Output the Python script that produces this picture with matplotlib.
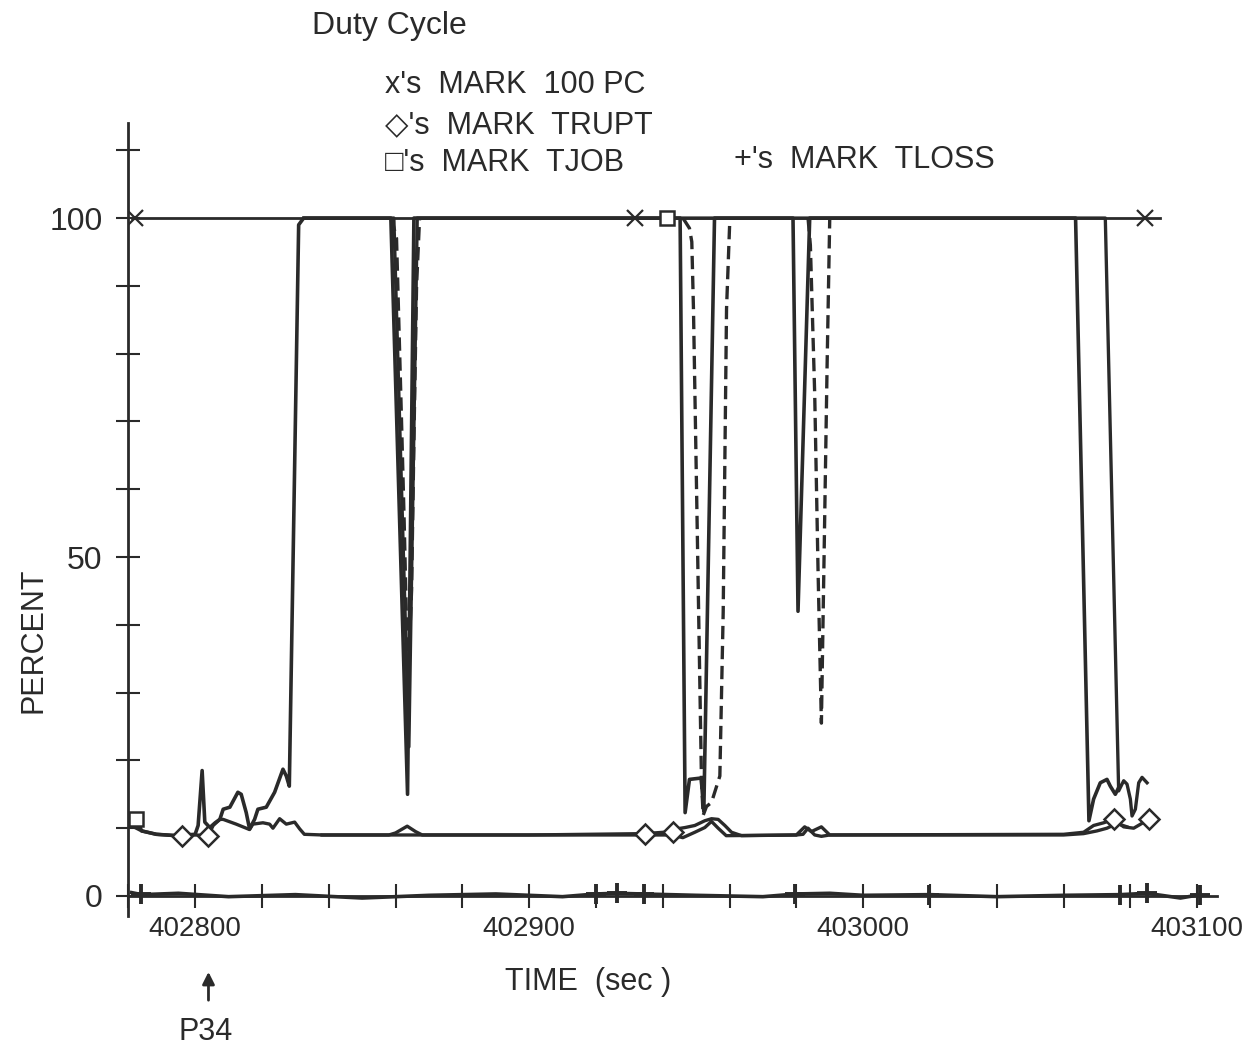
import matplotlib
matplotlib.use("Agg")
import matplotlib.pyplot as plt

plt.rcParams['font.family'] = ['Liberation Sans', 'DejaVu Sans']

# --- data (time in sec, duty cycle in percent) ---
# 100 PC reference line
pc100_t = [402781, 403089]
pc100_p = [100, 100]
pc100_mark_t = [402782, 402931.6, 403084.5]
pc100_mark_p = [100, 100, 100]

# TJOB curve (solid, main)
tjob_t = [402782.4, 402784, 402788.4, 402794.4, 402800, 402800.9, 402802.1, 402802.9,
          402804.4, 402806, 402807.4, 402808.4, 402810.4, 402812.8, 402813.8, 402815.3,
          402816.3, 402817.8, 402818.8, 402821.3, 402823.8, 402826.3, 402827.3, 402828.2,
          402831.0, 402832.5, 402858.6, 402863.6, 402865.5, 402945.2, 402946.7,
          402948, 402951.5, 402952.3, 402955.5, 402979, 402980.5, 402984, 403063.6,
          403067.6, 403069, 403071, 403073, 403074, 403075.5, 403076.5]
tjob_p = [11.3, 9.6, 9.1, 8.9, 9.1, 10.4, 18.5, 10.9,
          10.1, 10.8, 11.3, 12.8, 13.1, 15.3, 15.0, 12.3,
          9.9, 11.3, 12.8, 13.1, 15.3, 18.7, 17.7, 16.2,
          99, 100, 100, 15.0, 100, 100, 12.3,
          17.2, 17.4, 12.5, 100, 100, 42, 100, 100,
          11.1, 14.3, 16.7, 17.2, 16.2, 15.0, 16.0]
tjob_mark_t = [402782.4, 402941.2]
tjob_mark_p = [11.3, 100]

# second solid curve
solid2_t = [402832.5, 402859.5, 402864, 402866.5, 403072.5, 403076.5, 403078, 403079,
            403080, 403080.5, 403081.5, 403082.5, 403083.5, 403085]
solid2_p = [100, 100, 22, 100, 100, 15.5, 17.0, 16.5,
            14.3, 11.8, 12.8, 16.7, 17.5, 16.7]

# TRUPT curve (solid, along the bottom)
trupt_t = [402782.4, 402784, 402788.4, 402794.4, 402796.2, 402800, 402803.9, 402805.4,
           402807.4, 402808.4, 402812.3, 402816.3, 402817.3, 402820.3, 402822.3, 402823.3,
           402825.3, 402827.3, 402829.8, 402831.3, 402832.7, 402838.2, 402858, 402860,
           402863.5, 402866, 402868, 402900, 402934.6, 402943, 402944.2, 402946.7,
           402949.6, 402952.6, 402954.6, 402956.6, 402958.6, 402960.6, 402963.6, 402980,
           402982.5, 402984.5, 402987.5, 402990, 403060, 403066, 403069, 403072,
           403075, 403078, 403081, 403085.5]
trupt_p = [10.0, 9.6, 9.1, 8.9, 8.9, 9.0, 8.9, 10.4,
           11.3, 11.3, 10.6, 9.8, 10.6, 10.8, 10.6, 10.0,
           11.4, 10.6, 10.9, 9.9, 9.1, 9.0, 9.0, 9.3,
           10.3, 9.5, 9.0, 9.0, 9.2, 9.5, 9.9, 10.1,
           10.4, 11.1, 11.4, 11.3, 10.4, 9.4, 8.9, 9.0,
           10.2, 9.5, 10.2, 9.0, 9.1, 9.4, 10.4, 10.8,
           11.3, 10.2, 10.0, 11.3]
trupt_mark_t = [402796.2, 402803.9, 402934.6, 402943, 403075, 403085.5]
trupt_mark_p = [8.9, 8.9, 9.2, 9.5, 11.3, 11.3]

# companion bottom curve
low2_t = [402838, 402943, 402946, 402949.6, 402952.6, 402954.6, 402956.6, 402959, 402980,
          402982, 402983.5, 402985.5, 402987.5, 402990, 403060, 403066, 403070, 403073,
          403076, 403079]
low2_p = [9.0, 9.0, 8.6, 9.4, 10.1, 11.0, 10.0, 8.9, 9.0,
          9.1, 10.0, 9.0, 8.8, 9.0, 9.0, 9.2, 9.6, 10.0,
          10.7, 10.2]

# dashed curves
dash1_t = [402858.8, 402860.3, 402861.8, 402862.6, 402863.3, 402864, 402864.8, 402865.6,
           402866.3, 402867.2]
dash1_p = [100, 97, 70, 55, 40, 35, 45, 70, 90, 100]
dash2_t = [402946.0, 402946.7, 402948.0, 402948.7, 402949.2, 402950.4, 402951.6, 402952.1,
           402953.1, 402954.6, 402957.1, 402958.1, 402959.1, 402960.1]
dash2_p = [100, 99.5, 98.5, 96.5, 86.6, 52, 17.0, 11.9, 13.2, 13.8, 17.7, 41.9, 86.6, 100]
dash3_t = [402983.5, 402984.2, 402985.5, 402986.5, 402987.5, 402988.3, 402989.2, 402990.0]
dash3_p = [100, 96, 74, 48, 25.5, 50, 78, 100]

# TLOSS curve along zero
tloss_t = [402781, 402784, 402795, 402810, 402830, 402850, 402870, 402890, 402910, 402920,
           402926, 402934, 402950, 402970, 402980, 402990, 403000, 403020, 403040, 403060,
           403077, 403085, 403095, 403101]
tloss_p = [0.5, 0.2, 0.4, -0.1, 0.2, -0.3, 0.1, 0.3, -0.1, 0.3,
           0.4, 0.3, 0.1, -0.1, 0.3, 0.4, 0.1, 0.2, -0.1, 0.1,
           0.2, 0.4, -0.3, 0.2]
tloss_mark_t = [402783.9, 402920, 402926.2, 402934.3, 402979.6, 403019.8, 403077, 403085, 403101]
tloss_mark_p = [0.3, 0.3, 0.4, 0.3, 0.3, 0.2, 0.2, 0.4, 0.2]

x_ticks = [402780, 402800, 402820, 402840, 402860, 402880, 402900, 402920, 402940, 402960,
           402980, 403000, 403020, 403040, 403060, 403080, 403100]
x_labels = ['', '402800', '', '', '', '', '402900', '', '', '', '', '403000', '', '', '', '', '403100']
y_ticks = [0, 10, 20, 30, 40, 50, 60, 70, 80, 90, 100, 110]
y_labels = ['0', '', '', '', '', '50', '', '', '', '', '100', '']

ink = '#2a2a2a'

fig = plt.figure(figsize=(12.47, 10.58), dpi=100)
ax = fig.add_axes([0.1029, 0.1339, 0.8732, 0.7497])

ax.plot(pc100_t, pc100_p, color=ink, lw=2)
ax.plot(tloss_t, tloss_p, color=ink, lw=2.6)
ax.plot(trupt_t, trupt_p, color=ink, lw=2.4)
ax.plot(low2_t, low2_p, color=ink, lw=2.4)
ax.plot(solid2_t, solid2_p, color=ink, lw=2.4)
ax.plot(tjob_t, tjob_p, color=ink, lw=2.6)
for t, p in [(dash1_t, dash1_p), (dash2_t, dash2_p), (dash3_t, dash3_p)]:
    ax.plot(t, p, color=ink, lw=2.4, ls=(0, (4, 2)))

ax.plot(pc100_mark_t, pc100_mark_p, ls='none', marker='x', ms=11, mew=1.6, color=ink, zorder=5)
ax.plot(trupt_mark_t, trupt_mark_p, ls='none', marker='D', ms=10, mew=1.8, mec=ink, mfc='white', zorder=5)
ax.plot(tjob_mark_t, tjob_mark_p, ls='none', marker='s', ms=10, mew=1.8, mec=ink, mfc='white', zorder=5)
ax.plot(tloss_mark_t, tloss_mark_p, ls='none', marker='+', ms=14, mew=2.8, color=ink, zorder=5)

ax.set_xlim(402781, 403106)
ax.set_ylim(-3, 114)
ax.spines['top'].set_visible(False)
ax.spines['right'].set_visible(False)
ax.spines['bottom'].set_position(('data', 0))
for s in ['left', 'bottom']:
    ax.spines[s].set_linewidth(2)
    ax.spines[s].set_color(ink)

ax.set_xticks(x_ticks, x_labels)
ax.set_yticks(y_ticks, y_labels)
ax.tick_params(axis='both', direction='inout', length=17, width=1.5, color=ink,
               labelcolor=ink)
ax.tick_params(axis='x', pad=6, labelsize=20)
ax.tick_params(axis='y', pad=10, labelsize=23)

fig.text(0.25, 0.975, 'Duty Cycle', fontsize=23, color=ink, va='center')
fig.text(0.309, 0.92, "x's  MARK  100 PC", fontsize=22, color=ink, va='center')
fig.text(0.309, 0.882, "\u25c7's  MARK  TRUPT", fontsize=22, color=ink, va='center')
fig.text(0.309, 0.846, "\u25a1's  MARK  TJOB", fontsize=22, color=ink, va='center')
fig.text(0.589, 0.849, "+'s  MARK  TLOSS", fontsize=22, color=ink, va='center')

fig.text(0.027, 0.395, 'PERCENT', rotation=90, fontsize=22, color=ink, va='center', ha='center')
fig.text(0.4715, 0.072, 'TIME  (sec )', fontsize=22, color=ink, va='center', ha='center')

ax.annotate('', xy=(402804, 0.084), xytext=(402804, 0.052),
            xycoords=('data', 'figure fraction'), textcoords=('data', 'figure fraction'),
            arrowprops=dict(arrowstyle='-|>', color=ink, lw=2, mutation_scale=18))
ax.annotate('P34', xy=(402803, 0.025), xycoords=('data', 'figure fraction'),
            fontsize=22, color=ink, ha='center', va='center')

fig.savefig('out.png', dpi=100, facecolor='white')
